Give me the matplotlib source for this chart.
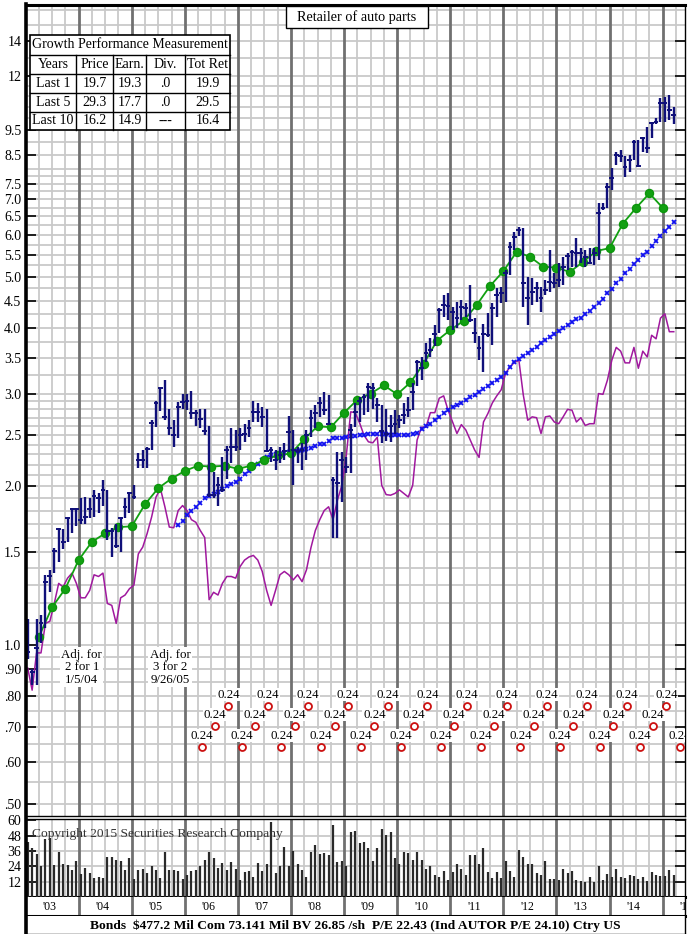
import numpy as np
import matplotlib.pyplot as plt
from matplotlib.patches import Rectangle
from matplotlib.lines import Line2D
from matplotlib.ticker import FixedLocator, NullLocator

plt.rcParams['font.family'] = ['Liberation Serif', 'DejaVu Serif']

# ---- data: monthly bars Jan 2003 .. Mar 2015 ----
high = [1.12, 0.90, 1.12, 1.14, 1.36, 1.39, 1.53, 1.67, 1.66, 1.75,
        1.82, 1.82, 1.90, 1.91, 1.90, 1.97, 1.94, 2.06, 1.97, 1.67,
        1.70, 1.75, 1.90, 1.95, 2.01, 2.31, 2.34, 2.38, 2.67, 2.90,
        3.08, 3.18, 2.80, 2.67, 2.89, 3.00, 3.00, 3.03, 2.79, 2.81,
        2.81, 2.60, 2.13, 2.08, 2.27, 2.39, 2.58, 2.56, 2.58, 2.63,
        2.67, 2.90, 2.88, 2.83, 2.81, 2.38, 2.35, 2.38, 2.42, 2.72,
        2.56, 2.38, 2.42, 2.56, 2.79, 2.85, 2.95, 3.02, 2.98, 2.08,
        2.32, 2.32, 2.27, 2.63, 2.88, 2.95, 3.00, 3.14, 3.14, 2.94,
        2.85, 2.80, 2.73, 2.79, 2.73, 2.88, 2.95, 3.14, 3.47, 3.52,
        3.74, 3.82, 4.04, 4.36, 4.61, 4.65, 4.38, 4.47, 4.51, 4.45,
        4.82, 4.17, 3.86, 4.06, 4.26, 4.45, 4.75, 4.77, 5.14, 5.81,
        6.07, 6.21, 6.19, 5.00, 4.97, 4.89, 4.77, 4.93, 5.61, 5.08,
        5.30, 5.45, 5.53, 5.61, 5.91, 5.66, 5.61, 5.66, 5.66, 6.89,
        6.89, 7.52, 8.03, 8.61, 8.69, 8.46, 8.50, 9.07, 9.07, 9.20,
        9.60, 9.82, 9.99, 10.89, 10.94, 11.04, 10.49]
low = [0.94, 0.84, 0.84, 1.01, 1.08, 1.26, 1.37, 1.44, 1.52, 1.57,
       1.63, 1.68, 1.70, 1.70, 1.74, 1.75, 1.78, 1.84, 1.58, 1.47,
       1.53, 1.50, 1.74, 1.78, 1.89, 2.17, 2.17, 2.17, 2.34, 2.59,
       2.78, 2.67, 2.50, 2.38, 2.47, 2.80, 2.79, 2.69, 2.60, 2.58,
       2.50, 1.91, 1.90, 1.84, 1.95, 2.07, 2.22, 2.33, 2.35, 2.43,
       2.48, 2.65, 2.65, 2.59, 2.32, 2.23, 2.15, 2.22, 2.24, 2.32,
       2.01, 2.22, 2.15, 2.24, 2.48, 2.58, 2.71, 2.73, 2.62, 1.60,
       1.60, 1.87, 2.12, 2.12, 2.59, 2.65, 2.73, 2.77, 2.80, 2.65,
       2.42, 2.44, 2.43, 2.52, 2.58, 2.63, 2.71, 2.79, 3.10, 3.18,
       3.44, 3.52, 3.69, 3.91, 4.19, 4.14, 3.96, 4.00, 4.14, 4.19,
       4.10, 3.74, 3.47, 3.30, 3.84, 3.71, 4.19, 4.45, 4.47, 5.04,
       5.61, 5.97, 4.38, 4.04, 4.42, 4.47, 4.28, 4.61, 4.67, 4.75,
       4.77, 4.82, 5.14, 5.22, 5.22, 5.30, 5.22, 5.27, 5.25, 5.37,
       6.68, 6.75, 7.30, 8.14, 8.24, 7.73, 7.89, 8.32, 8.06, 8.61,
       8.57, 9.15, 9.72, 9.82, 9.82, 9.90, 9.72]
close = [0.97, 0.89, 0.99, 1.10, 1.32, 1.35, 1.51, 1.66, 1.57, 1.74,
         1.81, 1.81, 1.73, 1.75, 1.81, 1.92, 1.90, 1.97, 1.65, 1.65,
         1.54, 1.74, 1.83, 1.94, 1.91, 2.24, 2.24, 2.36, 2.64, 2.88,
         3.07, 2.71, 2.58, 2.50, 2.83, 2.89, 2.91, 2.76, 2.76, 2.68,
         2.55, 1.93, 1.93, 2.01, 1.97, 2.35, 2.38, 2.38, 2.50, 2.52,
         2.58, 2.77, 2.77, 2.71, 2.33, 2.35, 2.24, 2.29, 2.33, 2.54,
         2.35, 2.33, 2.35, 2.50, 2.70, 2.75, 2.88, 2.79, 2.63, 2.06,
         2.03, 2.24, 2.18, 2.56, 2.77, 2.90, 2.95, 3.09, 3.07, 2.85,
         2.55, 2.52, 2.60, 2.63, 2.67, 2.73, 2.79, 3.02, 3.44, 3.35,
         3.58, 3.63, 3.89, 4.32, 4.42, 4.40, 4.28, 4.17, 4.38, 4.36,
         4.14, 3.91, 3.66, 3.89, 3.87, 4.36, 4.61, 4.65, 5.08, 5.69,
         5.94, 6.13, 4.86, 4.55, 4.67, 4.75, 4.55, 4.71, 4.89, 4.86,
         4.93, 5.22, 5.48, 5.56, 5.53, 5.53, 5.45, 5.30, 5.53, 6.60,
         6.75, 7.39, 7.69, 8.50, 8.46, 8.06, 8.32, 9.00, 8.10, 9.15,
         8.76, 9.78, 9.82, 10.65, 10.65, 10.34, 10.10]

# purple line, monthly Jan 2003 .. Mar 2015
pe_line = [0.905, 0.822, 0.967, 0.967, 1.10, 1.11, 1.20, 1.31, 1.29, 1.34,
           1.37, 1.31, 1.23, 1.23, 1.27, 1.36, 1.35, 1.37, 1.20, 1.19,
           1.10, 1.23, 1.245, 1.28, 1.30, 1.49, 1.535, 1.63, 1.75, 1.91,
           1.98, 1.83, 1.675, 1.67, 1.80, 1.84, 1.80, 1.73, 1.71, 1.65,
           1.60, 1.22, 1.26, 1.245, 1.31, 1.35, 1.35, 1.34, 1.41, 1.45,
           1.47, 1.48, 1.45, 1.38, 1.27, 1.19, 1.27, 1.36, 1.38, 1.36,
           1.33, 1.36, 1.32, 1.39, 1.53, 1.65, 1.73, 1.80, 1.83, 1.73,
           1.885, 2.01, 2.29, 2.77, 2.76, 2.64, 2.50, 2.43, 2.42, 2.48,
           2.01, 1.93, 1.925, 1.94, 1.97, 1.94, 1.91, 2.01, 2.45, 2.59,
           2.59, 2.76, 2.76, 2.94, 2.97, 2.79, 2.65, 2.52, 2.62, 2.56,
           2.45, 2.345, 2.27, 2.65, 2.75, 2.88, 2.97, 3.05, 3.28, 3.37,
           3.44, 3.47, 2.98, 2.67, 2.71, 2.70, 2.52, 2.71, 2.72, 2.65,
           2.63, 2.71, 2.80, 2.79, 2.65, 2.70, 2.61, 2.63, 2.63, 3.00,
           2.99, 3.18, 3.47, 3.67, 3.61, 3.43, 3.43, 3.67, 3.35, 3.61,
           3.52, 3.87, 3.81, 4.17, 4.25, 3.93, 3.93]

# blue x line, monthly Nov 2005 .. Mar 2015
rel_start = 34
rel_line = [1.69, 1.72, 1.765, 1.795, 1.83, 1.86, 1.90, 1.92, 1.935, 1.95,
            1.98, 2.00, 2.02, 2.04, 2.07, 2.11, 2.14, 2.18, 2.21, 2.24,
            2.27, 2.29, 2.30, 2.30, 2.31, 2.32, 2.32, 2.33, 2.35, 2.36,
            2.37, 2.39, 2.41, 2.41, 2.44, 2.47, 2.47, 2.47, 2.48, 2.49,
            2.49, 2.50, 2.50, 2.51, 2.51, 2.51, 2.51, 2.51, 2.50, 2.50,
            2.50, 2.50, 2.50, 2.51, 2.53, 2.57, 2.60, 2.63, 2.67, 2.71,
            2.76, 2.79, 2.83, 2.85, 2.88, 2.92, 2.95, 2.98, 3.02, 3.06,
            3.10, 3.14, 3.18, 3.22, 3.28, 3.37, 3.44, 3.49, 3.53, 3.58,
            3.63, 3.68, 3.74, 3.79, 3.84, 3.89, 3.94, 4.00, 4.05, 4.10,
            4.15, 4.18, 4.24, 4.30, 4.38, 4.45, 4.53, 4.65, 4.73, 4.86,
            4.95, 5.08, 5.17, 5.28, 5.37, 5.50, 5.56, 5.71, 5.84, 5.97,
            6.10, 6.21, 6.34]

# green earnings line, quarter ends 2003Q1 .. 2014Q4
eps = [1.036, 1.18, 1.28, 1.45, 1.57, 1.63, 1.675, 1.68, 1.85, 1.985,
       2.07, 2.14, 2.19, 2.18, 2.19, 2.16, 2.19, 2.245, 2.29, 2.31,
       2.46, 2.60, 2.59, 2.76, 2.92, 3.00, 3.11, 2.99, 3.15, 3.42,
       3.78, 3.96, 4.12, 4.42, 4.80, 5.12, 5.57, 5.45, 5.22, 5.20,
       5.10, 5.33, 5.59, 5.66, 6.30, 6.75, 7.19, 6.75]

volume = [43, 38.5, 34, 24, 45, 46, 25, 35, 25.5, 25,
          21.5, 28, 18, 23, 18.5, 15, 16, 15, 31.5, 31.5,
          29, 28.5, 21, 30.5, 14, 21.5, 22, 19, 24, 21.5,
          14.5, 35.5, 21.5, 21, 20, 14, 17, 20, 21, 24.5,
          29, 35, 30.5, 23, 26.5, 21.5, 27, 22, 13, 19.5,
          20, 15.5, 26.5, 20, 26, 58.5, 18.5, 24.5, 39, 24.5,
          36, 25.5, 21, 15.5, 35, 41, 33.5, 34.5, 33, 56,
          27.5, 28.5, 24.5, 51, 51.5, 42, 43, 38, 28.5, 38.5,
          53.5, 48.5, 51, 30.5, 25.5, 35.5, 34.5, 29, 35.5, 29,
          22, 24, 17, 15.5, 20, 13, 19.5, 26, 22, 17,
          33, 32.5, 26, 38, 19.5, 14.5, 19.5, 14.5, 28.5, 20,
          15.5, 37, 31, 26, 26, 19, 17, 28.5, 14, 14,
          13, 22, 18.5, 20, 13, 12.5, 11.5, 15.5, 11.5, 24,
          13, 18, 15.5, 22, 16, 15, 17, 16.5, 14, 15.5,
          12.5, 19.5, 17.5, 16.5, 16.5, 21.5, 17.5]

div_dates = ["2006-04", "2006-07", "2006-10", "2007-01", "2007-04", "2007-07",
             "2007-10", "2008-01", "2008-04", "2008-07", "2008-10", "2009-01",
             "2009-04", "2009-07", "2009-10", "2010-01", "2010-04", "2010-07",
             "2010-10", "2011-01", "2011-04", "2011-07", "2011-10", "2012-01",
             "2012-04", "2012-07", "2012-10", "2013-01", "2013-04", "2013-07",
             "2013-10", "2014-01", "2014-04", "2014-07", "2014-10", "2015-01",
             "2015-04"]
div_amount = [0.24, 0.24, 0.24, 0.24, 0.24, 0.24, 0.24, 0.24, 0.24, 0.24,
              0.24, 0.24, 0.24, 0.24, 0.24, 0.24, 0.24, 0.24, 0.24, 0.24,
              0.24, 0.24, 0.24, 0.24, 0.24, 0.24, 0.24, 0.24, 0.24, 0.24,
              0.24, 0.24, 0.24, 0.24, 0.24, 0.24, 0.24]

split_notes = ["Adj. for\n2 for 1\n1/5/04", "Adj. for\n3 for 2\n9/26/05"]
split_dates = [2004.06, 2005.72]

price_ticks = [14, 12, 9.5, 8.5, 7.5, 7.0, 6.5, 6.0, 5.5, 5.0, 4.5, 4.0,
               3.5, 3.0, 2.5, 2.0, 1.5, 1.0, 0.90, 0.80, 0.70, 0.60, 0.50]
price_labels = ["14", "12", "9.5", "8.5", "7.5", "7.0", "6.5", "6.0", "5.5",
                "5.0", "4.5", "4.0", "3.5", "3.0", "2.5", "2.0", "1.5", "1.0",
                ".90", ".80", ".70", ".60", ".50"]
vol_ticks = [12, 24, 36, 48, 60]
year_labels = ["'03", "'04", "'05", "'06", "'07", "'08", "'09", "'10",
               "'11", "'12", "'13", "'14", "'15"]

growth_title = "Growth Performance Measurement"
growth_head = ["Years", "Price", "Earn.", "Div.", "Tot Ret"]
growth_rows = ["Last 1", "Last 5", "Last 10"]
growth_price = ["19.7", "29.3", "16.2"]
growth_earn = ["19.3", "17.7", "14.9"]
growth_div = [".0", ".0", "---"]
growth_tot = ["19.9", "29.5", "16.4"]

title = "Retailer of auto parts"
footer = "Bonds  $477.2 Mil Com 73.141 Mil BV 26.85 /sh  P/E 22.43 (Ind AUTOR P/E 24.10) Ctry US"
copyright_note = "Copyright 2015 Securities Research Company"

# ---- layout helpers (pixel -> figure fraction) ----
W, H = 689, 934
def fx(x):
    return x / W
def fy(y):
    return 1 - y / H

X0, X1 = 25.5, 685
XMIN, XMAX = 2003.0, 2015.42

fig = plt.figure(figsize=(W / 100, H / 100), dpi=100)

ax = fig.add_axes([fx(X0), fy(816), fx(X1) - fx(X0), fy(5) - fy(816)])
axv = fig.add_axes([fx(X0), fy(897), fx(X1) - fx(X0), fy(819) - fy(897)])
axl = fig.add_axes([fx(X0), fy(916), fx(X1) - fx(X0), fy(897) - fy(916)])
axb = fig.add_axes([fx(X0), fy(933.5), fx(X1) - fx(X0), fy(916) - fy(933.5)])

n = len(high)
mx = XMIN + (np.arange(n) + 0.5) / 12
qx = XMIN + np.arange(1, len(eps) + 1) / 4
rx = mx[rel_start:rel_start + len(rel_line)]
dx = np.array([int(d[:4]) + (int(d[5:]) - 1) / 12 + 0.07 for d in div_dates])

grid_c = '#c9c9c9'
year_c = '#707070'
quarters = np.arange(2003.25, 2015.5, 0.25)

# ---- price panel ----
ax.set_yscale('log')
ax.set_xlim(XMIN, XMAX)
ax.set_ylim(0.4745, 16.36)

grid_vals = (list(np.arange(0.50, 1.0, 0.05)) + list(np.arange(1.0, 3.0, 0.1)) +
             list(np.arange(3.0, 8.0, 0.25)) + list(np.arange(8.0, 12.0, 0.5)) +
             list(np.arange(12.0, 17.0, 1.0)))
for v in grid_vals:
    ax.axhline(v, color=grid_c, lw=1.3, zorder=0)
for q in quarters:
    yr = abs(q - round(q)) < 1e-6
    for a in (ax, axv):
        a.axvline(q, color=year_c if yr else grid_c, lw=2.0 if yr else 1.3, zorder=0.5 if yr else 0)

ax.yaxis.set_major_locator(FixedLocator(price_ticks))
ax.yaxis.set_minor_locator(NullLocator())
ax.set_yticklabels(price_labels)
ax.set_xticks([])
ax.tick_params(axis='y', direction='in', length=7, width=1.2, left=True, right=True,
               labelsize=10, pad=3)

ax.plot(mx, pe_line, color='#a0189e', lw=1.1, zorder=2)
ax.plot(rx, rel_line, ls='none', marker='x', ms=3.4, mew=1.3, color='#1010f0', zorder=3)
ax.plot(qx, eps, color='#12a012', lw=1.3, marker='o', ms=5.8, mfc='#12a012',
        mec='#0c960c', zorder=4)
ax.vlines(mx, low, high, color='#10107a', lw=1.7, zorder=5)
ax.hlines(close, mx - 0.045, mx + 0.045, color='#10107a', lw=1.4, zorder=5)

levels = [0.641, 0.703, 0.767]
for k, (d, amt) in enumerate(zip(dx, div_amount)):
    lv = levels[k % 3]
    ax.plot(d, lv, 'o', ms=5, mfc='white', mec='#cc1010', mew=1.3, zorder=6)
    ax.annotate(f"{amt:.2f}", (d, lv), xytext=(0, 8.2), textcoords='offset points',
                ha='center', va='center', fontsize=9.3, zorder=6, clip_on=True,
                bbox=dict(boxstyle='square,pad=0.05', fc='white', ec='none'))

for note, d in zip(split_notes, split_dates):
    ax.text(d, 0.909, note, ha='center', va='center', fontsize=9.3, linespacing=1.05,
            zorder=6, bbox=dict(boxstyle='square,pad=0.1', fc='white', ec='none'))

ax.spines['left'].set_visible(False)
ax.spines['top'].set_linewidth(2.2)
ax.spines['right'].set_linewidth(1.0)
ax.spines['bottom'].set_linewidth(1.0)

# ---- volume panel ----
axv.set_xlim(XMIN, XMAX)
axv.set_ylim(0, 61)
for v in vol_ticks[:-1]:
    axv.axhline(v, color=grid_c, lw=1.3, zorder=0)
axv.vlines(mx, 0, volume, color='#2a2a2a', lw=1.6, zorder=3)
axv.set_xticks([])
axv.set_yticks(vol_ticks)
axv.set_yticklabels([str(v) for v in vol_ticks])
axv.tick_params(axis='y', direction='in', length=7, width=1.2, left=True, right=True,
                labelsize=10, pad=3)
axv.text(2003.13, 49.5, copyright_note, fontsize=9.7, color='#333333', va='center',
         ha='left', zorder=4)
axv.spines['left'].set_visible(False)
axv.spines['top'].set_linewidth(1.0)
axv.spines['right'].set_linewidth(1.0)
axv.spines['bottom'].set_linewidth(2.2)

# ---- year strip ----
axl.set_xlim(XMIN, XMAX)
axl.set_ylim(0, 1)
axl.set_xticks([])
axl.set_yticks([])
for yr in range(2004, 2016):
    axl.axvline(yr, color=year_c, lw=2.0)
for k, lab in enumerate(year_labels):
    axl.text(2003.45 + k, 0.48, lab, ha='center', va='center', fontsize=8.5, clip_on=True)
axl.spines['left'].set_visible(False)
axl.spines['top'].set_visible(False)
axl.spines['bottom'].set_linewidth(2.2)
axl.spines['right'].set_linewidth(1.0)

# ---- footer ----
axb.set_xticks([])
axb.set_yticks([])
axb.spines['left'].set_visible(False)
axb.spines['top'].set_visible(False)
axb.spines['right'].set_linewidth(1.0)
axb.spines['bottom'].set_linewidth(1.0)
axb.text(0.5, 0.45, footer, ha='center', va='center', fontsize=9.7, fontweight='bold',
         transform=axb.transAxes)

# thick left rule over whole chart
fig.add_artist(Line2D([fx(26), fx(26)], [fy(4), fy(934)], color='black', lw=2.6, zorder=10))

# ---- title box ----
fig.add_artist(Rectangle((fx(286), fy(28)), fx(428) - fx(286), fy(6) - fy(28),
                         transform=fig.transFigure, fc='white', ec='black', lw=1.0, zorder=8))
fig.text(fx(357), fy(17), title, ha='center', va='center', fontsize=10.3, zorder=9)

# ---- growth table ----
cx = [30, 76, 113, 146, 185, 230]
ry = [35, 55, 74, 93, 112, 130]
fig.add_artist(Rectangle((fx(cx[0]), fy(ry[-1])), fx(cx[-1]) - fx(cx[0]), fy(ry[0]) - fy(ry[-1]),
                         transform=fig.transFigure, fc='white', ec='black', lw=1.2, zorder=8))
for y in ry[1:-1]:
    fig.add_artist(Line2D([fx(cx[0]), fx(cx[-1])], [fy(y), fy(y)], color='black', lw=1.0, zorder=9))
for x in cx[1:-1]:
    fig.add_artist(Line2D([fx(x), fx(x)], [fy(ry[1]), fy(ry[-1])], color='black', lw=1.0, zorder=9))
fig.text(fx((cx[0] + cx[-1]) / 2), fy((ry[0] + ry[1]) / 2), growth_title, ha='center',
         va='center', fontsize=10, zorder=10)
cells = [growth_head] + [[r, p, e, d, t] for r, p, e, d, t in
                         zip(growth_rows, growth_price, growth_earn, growth_div, growth_tot)]
for ri, row in enumerate(cells):
    yc = (ry[ri + 1] + ry[ri + 2]) / 2
    for ci, val in enumerate(row):
        xc = (cx[ci] + cx[ci + 1]) / 2
        fig.text(fx(xc), fy(yc), val, ha='center', va='center', fontsize=10, zorder=10)

fig.savefig("out.png", dpi=100)
